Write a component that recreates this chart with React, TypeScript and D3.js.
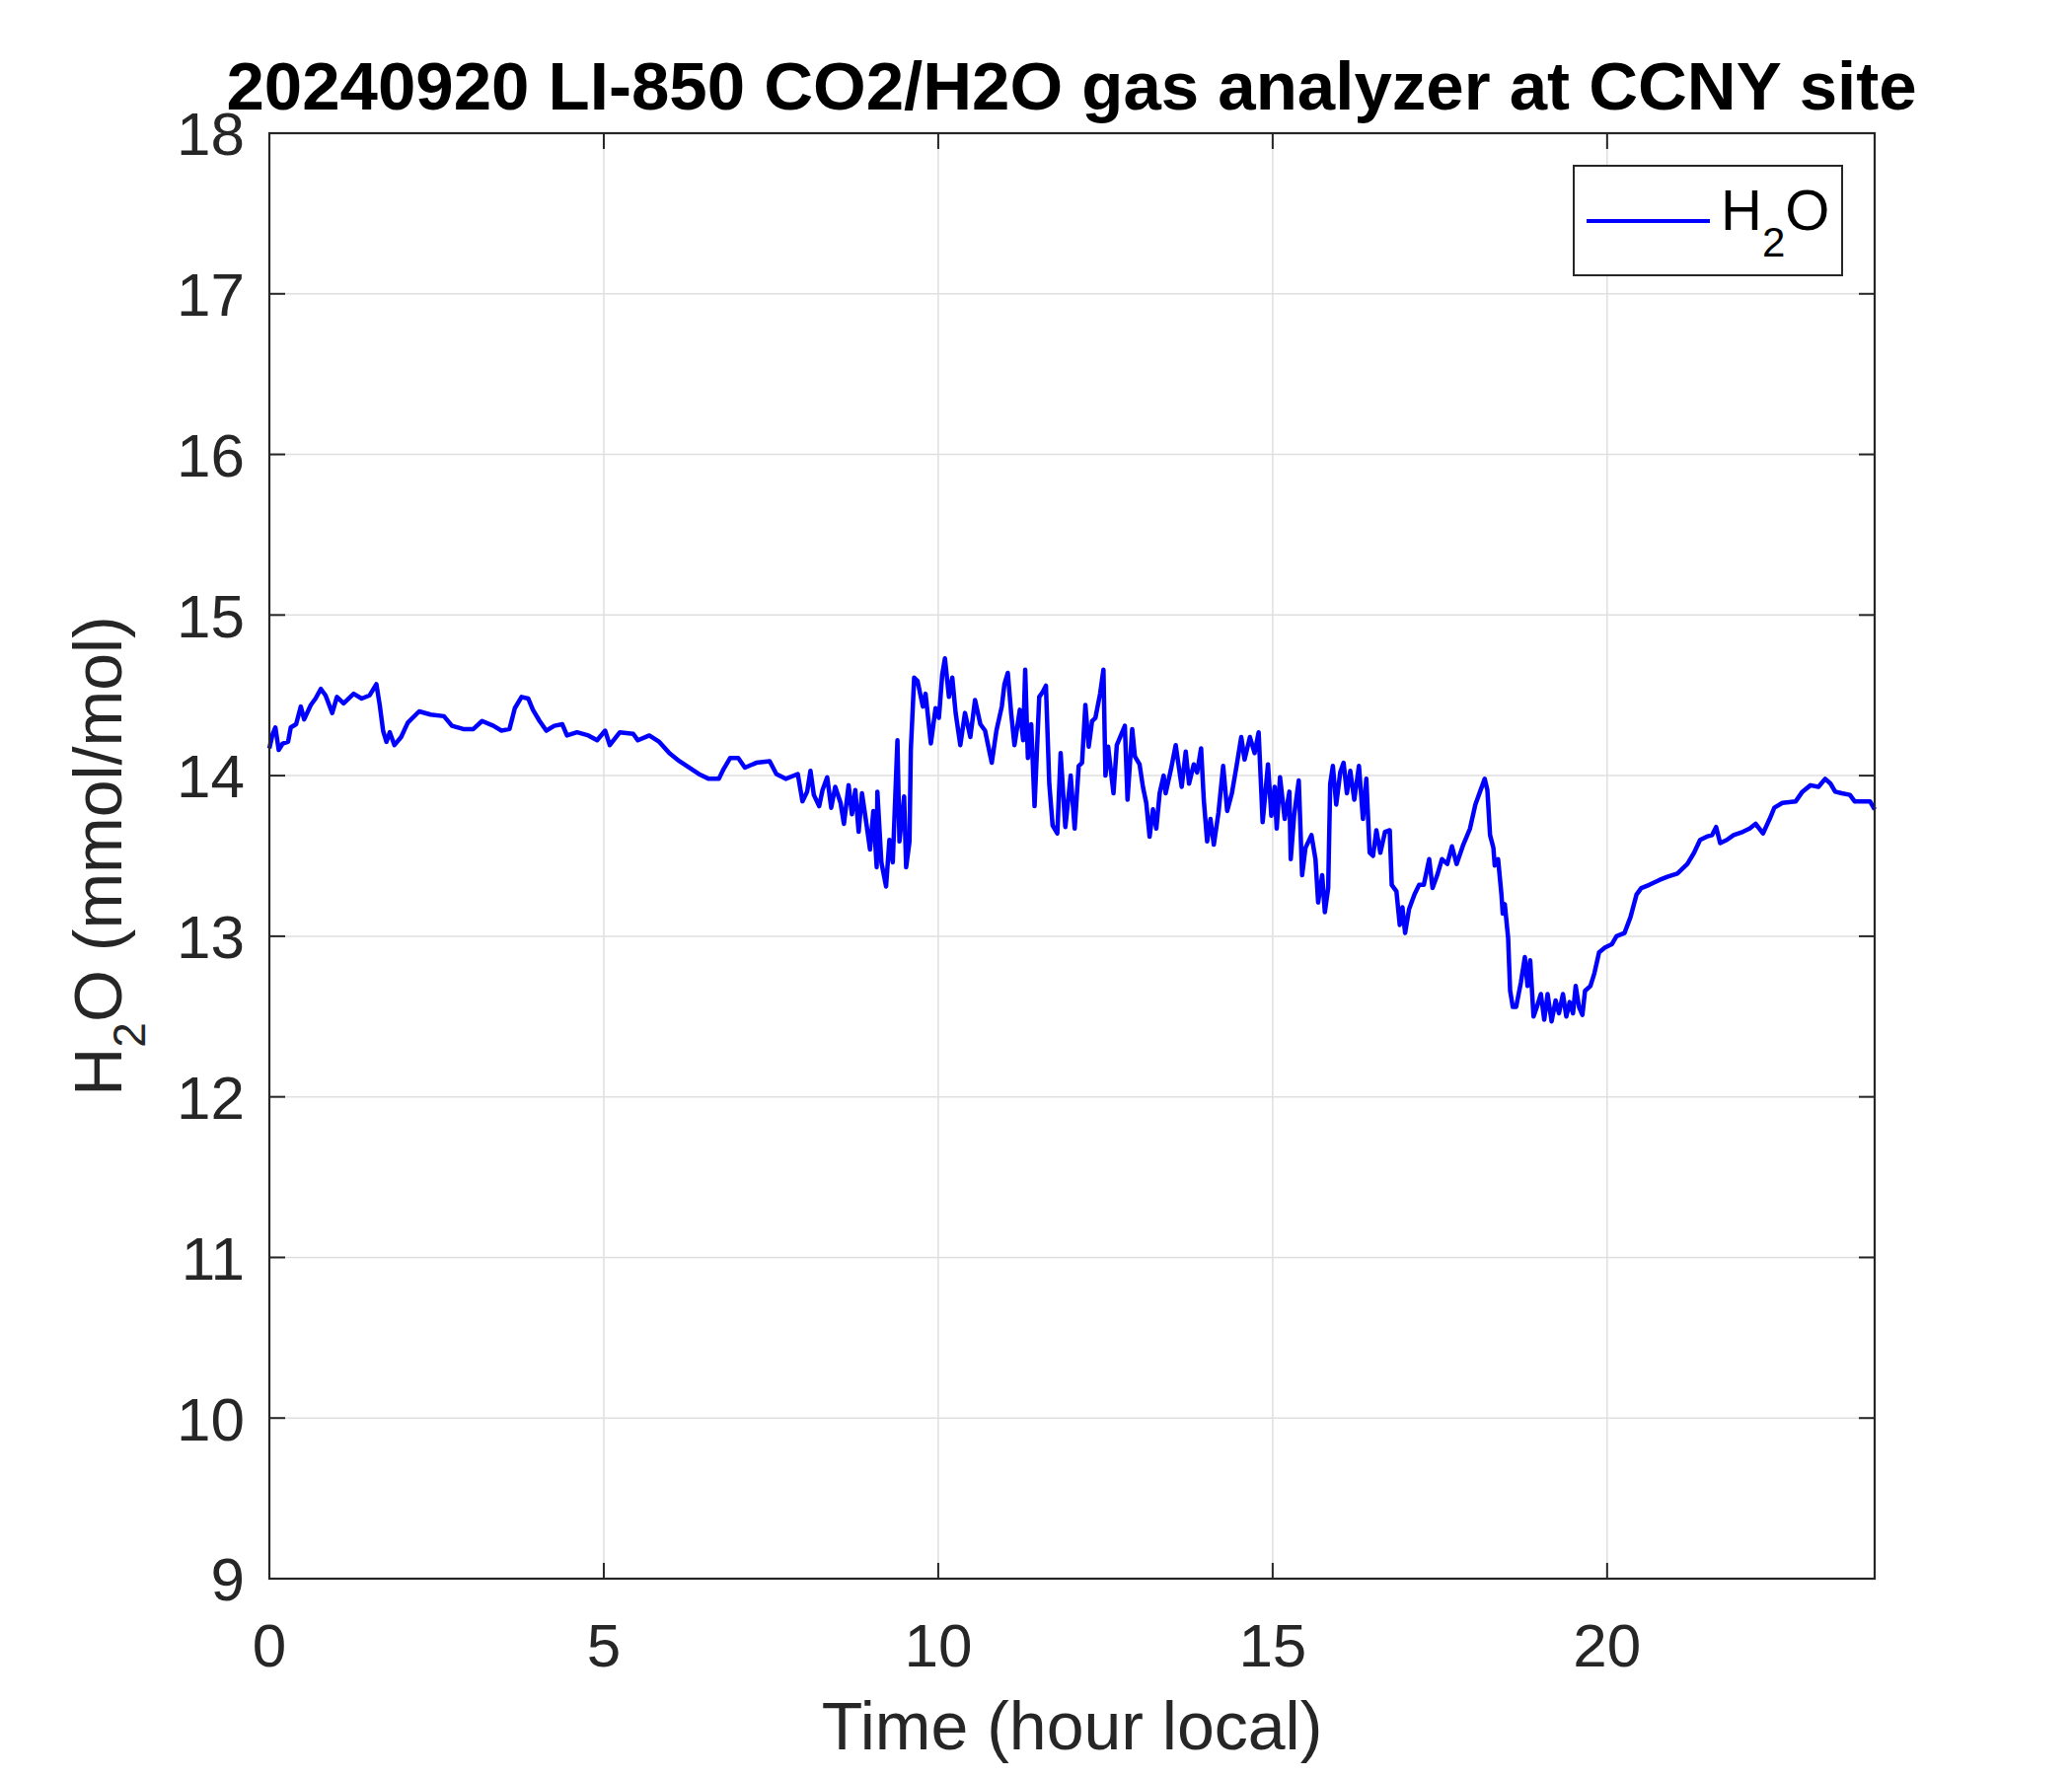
import React from "react";
import * as d3 from "d3";

const hours = [0,0.05,0.09,0.14,0.2,0.28,0.32,0.4,0.47,0.52,0.62,0.69,0.77,0.84,0.94,1.01,1.11,1.26,1.38,1.5,1.6,1.65,1.7,1.75,1.8,1.87,1.97,2.07,2.24,2.41,2.61,2.73,2.9,3.05,3.18,3.35,3.47,3.59,3.67,3.77,3.87,3.94,4.04,4.14,4.26,4.38,4.45,4.6,4.77,4.9,5.02,5.09,5.24,5.44,5.51,5.68,5.83,5.98,6.13,6.42,6.57,6.72,6.79,6.89,7.01,7.11,7.28,7.48,7.58,7.72,7.9,7.97,8.04,8.09,8.14,8.22,8.27,8.34,8.4,8.46,8.54,8.59,8.66,8.71,8.76,8.81,8.86,8.93,8.98,9.03,9.08,9.09,9.15,9.22,9.27,9.32,9.39,9.42,9.49,9.52,9.57,9.59,9.64,9.69,9.77,9.81,9.89,9.96,10.01,10.06,10.1,10.16,10.21,10.26,10.33,10.4,10.48,10.55,10.63,10.7,10.8,10.87,10.95,10.99,11.04,11.09,11.14,11.22,11.27,11.3,11.34,11.39,11.44,11.51,11.56,11.61,11.66,11.71,11.78,11.83,11.9,11.98,12.04,12.1,12.15,12.2,12.25,12.3,12.35,12.42,12.47,12.5,12.54,12.62,12.67,12.79,12.83,12.9,12.94,13.01,13.06,13.11,13.16,13.21,13.26,13.31,13.37,13.4,13.48,13.55,13.64,13.7,13.75,13.82,13.87,13.93,13.97,14.02,14.07,14.12,14.19,14.26,14.32,14.39,14.46,14.53,14.58,14.66,14.73,14.79,14.85,14.93,14.98,15.03,15.06,15.11,15.18,15.25,15.27,15.32,15.39,15.44,15.49,15.58,15.64,15.68,15.74,15.78,15.83,15.86,15.9,15.95,16.01,16.06,16.11,16.16,16.22,16.29,16.35,16.4,16.45,16.5,16.55,16.61,16.68,16.75,16.78,16.85,16.9,16.94,16.98,17.04,17.12,17.19,17.26,17.34,17.39,17.46,17.53,17.61,17.68,17.75,17.85,17.95,18.03,18.1,18.17,18.21,18.25,18.3,18.32,18.37,18.42,18.44,18.47,18.52,18.55,18.59,18.64,18.71,18.77,18.81,18.85,18.9,18.95,19.01,19.06,19.11,19.17,19.23,19.28,19.34,19.39,19.44,19.49,19.53,19.58,19.63,19.67,19.75,19.81,19.88,19.97,20.07,20.14,20.26,20.35,20.44,20.51,20.63,20.78,20.9,21.05,21.2,21.3,21.39,21.49,21.57,21.63,21.69,21.79,21.89,22.03,22.13,22.22,22.33,22.43,22.5,22.62,22.82,22.92,23.04,23.16,23.26,23.34,23.41,23.51,23.63,23.7,23.83,23.93,24.0];

const h2o = [14.17,14.26,14.30,14.16,14.20,14.21,14.30,14.32,14.43,14.35,14.44,14.48,14.54,14.50,14.39,14.49,14.45,14.51,14.48,14.50,14.57,14.44,14.28,14.21,14.27,14.19,14.24,14.33,14.40,14.38,14.37,14.31,14.29,14.29,14.34,14.31,14.28,14.29,14.42,14.49,14.48,14.41,14.34,14.28,14.31,14.32,14.25,14.27,14.25,14.22,14.28,14.19,14.27,14.26,14.22,14.25,14.21,14.14,14.09,14.01,13.98,13.98,14.04,14.11,14.11,14.05,14.08,14.09,14.01,13.98,14.01,13.84,13.90,14.03,13.88,13.81,13.91,13.99,13.80,13.93,13.83,13.70,13.94,13.76,13.91,13.65,13.89,13.69,13.54,13.78,13.43,13.90,13.46,13.31,13.60,13.46,14.22,13.59,13.87,13.43,13.59,14.16,14.61,14.59,14.43,14.51,14.20,14.42,14.36,14.63,14.73,14.49,14.61,14.39,14.19,14.39,14.24,14.47,14.32,14.28,14.08,14.28,14.43,14.57,14.64,14.39,14.19,14.41,14.22,14.66,14.11,14.32,13.81,14.49,14.52,14.56,13.95,13.69,13.64,14.14,13.68,14.0,13.67,14.06,14.08,14.44,14.18,14.34,14.36,14.51,14.66,14.0,14.18,13.89,14.19,14.31,13.85,14.29,14.12,14.07,13.93,13.83,13.62,13.79,13.67,13.89,14.0,13.89,14.04,14.19,13.93,14.15,13.95,14.07,14.02,14.17,13.85,13.59,13.73,13.57,13.77,14.06,13.78,13.89,14.06,14.24,14.10,14.24,14.14,14.27,13.71,14.07,13.75,13.93,13.67,13.99,13.73,13.90,13.48,13.75,13.97,13.38,13.55,13.63,13.48,13.21,13.38,13.15,13.30,13.95,14.06,13.82,14.02,14.08,13.89,14.03,13.85,14.06,13.73,13.98,13.52,13.5,13.66,13.52,13.65,13.66,13.32,13.28,13.07,13.18,13.02,13.17,13.26,13.32,13.32,13.48,13.30,13.38,13.48,13.45,13.56,13.45,13.57,13.67,13.82,13.9,13.98,13.91,13.63,13.55,13.44,13.48,13.26,13.14,13.20,12.99,12.66,12.56,12.56,12.71,12.87,12.69,12.85,12.50,12.56,12.64,12.48,12.64,12.47,12.60,12.52,12.64,12.50,12.59,12.52,12.69,12.56,12.51,12.66,12.69,12.77,12.90,12.93,12.95,13.0,13.02,13.12,13.26,13.30,13.32,13.35,13.37,13.39,13.45,13.52,13.60,13.62,13.63,13.68,13.58,13.60,13.63,13.65,13.67,13.70,13.64,13.73,13.80,13.83,13.84,13.90,13.94,13.93,13.98,13.95,13.90,13.89,13.88,13.84,13.84,13.84,13.79];

const xTicks = [0, 5, 10, 15, 20];
const yTicks = [9, 10, 11, 12, 13, 14, 15, 16, 17, 18];

const titleText = "20240920 LI-850 CO2/H2O gas analyzer at CCNY site";
const xLabel = "Time (hour local)";

const FONT = "'Liberation Sans', Arial, Helvetica, sans-serif";
const AX = "#262626";

export default function App() {
  const L = 273, R = 1900, T = 135, B = 1600;
  const x = d3.scaleLinear().domain([0, 24]).range([L, R]);
  const y = d3.scaleLinear().domain([9, 18]).range([B, T]);
  const pts = hours.map((h, i) => [h, h2o[i]] as [number, number]);
  const line = d3.line<[number, number]>().x(d => x(d[0])).y(d => y(d[1]));
  const tl = 16;
  return (
    <svg width={2100} height={1800} style={{ position: "absolute", left: 0, top: 0, background: "#fff" }} fontFamily={FONT}>
      <rect x={0} y={0} width={2100} height={1800} fill="#fff" />
      {xTicks.map(t => (
        <line key={"gx" + t} x1={x(t)} x2={x(t)} y1={T} y2={B} stroke="#dfdfdf" strokeWidth={1.5} />
      ))}
      {yTicks.map(t => (
        <line key={"gy" + t} x1={L} x2={R} y1={y(t)} y2={y(t)} stroke="#dfdfdf" strokeWidth={1.5} />
      ))}
      <path d={line(pts) || ""} fill="none" stroke="#0000ff" strokeWidth={4.5} strokeLinejoin="round" />
      {xTicks.map(t => (
        <g key={"tx" + t}>
          <line x1={x(t)} x2={x(t)} y1={B} y2={B - tl} stroke={AX} strokeWidth={2} />
          <line x1={x(t)} x2={x(t)} y1={T} y2={T + tl} stroke={AX} strokeWidth={2} />
          <text x={x(t)} y={1689} textAnchor="middle" fontSize={62} fill={AX}>{t}</text>
        </g>
      ))}
      {yTicks.map(t => (
        <g key={"ty" + t}>
          <line x1={L} x2={L + tl} y1={y(t)} y2={y(t)} stroke={AX} strokeWidth={2} />
          <line x1={R} x2={R - tl} y1={y(t)} y2={y(t)} stroke={AX} strokeWidth={2} />
          <text x={248} y={y(t)} dy="0.36em" textAnchor="end" fontSize={62} fill={AX}>{t}</text>
        </g>
      ))}
      <rect x={L} y={T} width={R - L} height={B - T} fill="none" stroke={AX} strokeWidth={2.2} />
      <text x={(L + R) / 2} y={1773} textAnchor="middle" fontSize={68} fill={AX}>{xLabel}</text>
      <text transform={`translate(123,${(T + B) / 2}) rotate(-90)`} textAnchor="middle" fontSize={68} fill={AX}>
        <tspan>H</tspan>
        <tspan dy={24} fontSize={46}>2</tspan>
        <tspan dy={-24}>O (mmol/mol)</tspan>
      </text>
      <text x={1086} y={111} textAnchor="middle" fontSize={69} fontWeight="bold" fill="#000">{titleText}</text>
      <rect x={1595} y={168} width={272} height={111} fill="#fff" stroke={AX} strokeWidth={2} />
      <line x1={1608} x2={1733} y1={224} y2={224} stroke="#0000ff" strokeWidth={4} />
      <text x={1744} y={233} fontSize={58} fill="#000">
        <tspan>H</tspan>
        <tspan dy={27} fontSize={42}>2</tspan>
        <tspan dy={-27}>O</tspan>
      </text>
    </svg>
  );
}
